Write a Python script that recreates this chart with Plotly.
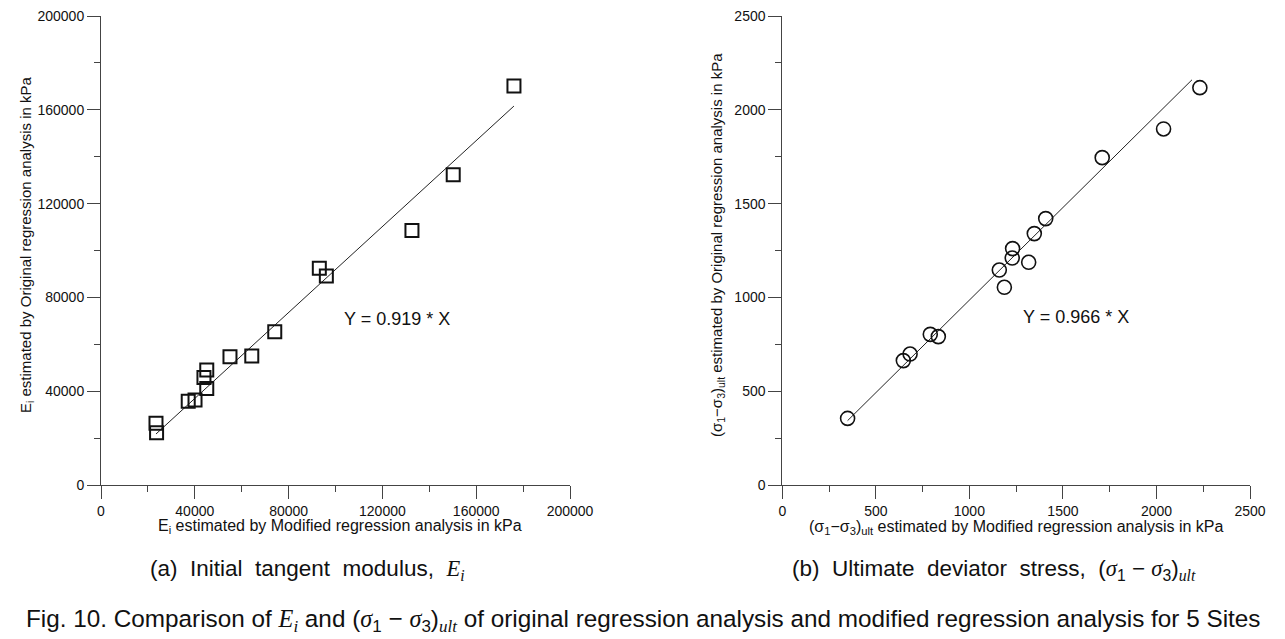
import plotly.graph_objects as go

# ---- data ----
ei_modified = [176100, 150200, 132600, 93100, 96100, 74100, 64300, 55000, 45100, 43900, 45100, 40100, 37200, 23450, 23700]
ei_original = [170200, 132300, 108500, 92400, 89100, 65300, 55000, 54700, 49000, 45800, 41200, 36300, 35700, 26300, 22300]
ei_line_x = [23450, 176100]
ei_line_y = [21750, 161600]

su_modified = [2232, 2038, 1710, 1408, 1347, 1231, 1229, 1317, 1160, 1187, 834, 791, 683, 647, 349]
su_original = [2118, 1898, 1745, 1420, 1340, 1260, 1210, 1187, 1146, 1054, 791, 803, 698, 663, 355]
su_line_x = [349, 2190]
su_line_y = [343, 2160]

ei_ticks = [0, 40000, 80000, 120000, 160000, 200000]
su_ticks = [0, 500, 1000, 1500, 2000, 2500]

W, H = 1285, 639
def px(x):
    return x / W
def py(y):
    return 1 - y / H

AX = "#444444"
FONT = "Arial, Liberation Sans, sans-serif"
SERIF = "Liberation Serif, Times New Roman, serif"

fig = go.Figure()

fig.add_trace(go.Scatter(x=ei_line_x, y=ei_line_y, mode="lines",
                         line=dict(color="#222222", width=1), xaxis="x", yaxis="y", showlegend=False))
fig.add_trace(go.Scatter(x=ei_modified, y=ei_original, mode="markers",
                         marker=dict(symbol="square-open", size=13, color="#111111", line=dict(width=2)),
                         xaxis="x", yaxis="y", showlegend=False))
fig.add_trace(go.Scatter(x=su_line_x, y=su_line_y, mode="lines",
                         line=dict(color="#222222", width=1), xaxis="x2", yaxis="y2", showlegend=False))
fig.add_trace(go.Scatter(x=su_modified, y=su_original, mode="markers",
                         marker=dict(symbol="circle-open", size=14, color="#111111", line=dict(width=1.6)),
                         xaxis="x2", yaxis="y2", showlegend=False))

def axis(domain, rng, ticks, minor_dtick, anchor):
    return dict(domain=domain, range=rng, tickvals=ticks, ticktext=[str(t) for t in ticks],
                showline=True, linecolor=AX, linewidth=1, mirror=False,
                showgrid=False, zeroline=False, ticks="outside", ticklen=13, tickwidth=1,
                tickcolor=AX, tickfont=dict(family=FONT, size=14, color="#111111"),
                minor=dict(ticks="outside", ticklen=6, tickcolor=AX, dtick=minor_dtick, tick0=0, showgrid=False),
                anchor=anchor, automargin=False, fixedrange=True)

ydom = [py(485), py(16)]
xa = axis([px(101), px(570)], [0, 200000], ei_ticks, 20000, "y")
ya = axis(ydom, [0, 200000], ei_ticks, 20000, "x")
xb = axis([px(782.3), px(1250)], [0, 2500], su_ticks, 250, "y2")
yb = axis(ydom, [0, 2500], su_ticks, 250, "x2")

fig.update_layout(
    width=W, height=H, margin=dict(l=0, r=0, t=0, b=0),
    paper_bgcolor="white", plot_bgcolor="white",
    xaxis=xa, yaxis=ya, xaxis2=xb, yaxis2=yb,
    font=dict(family=FONT, color="#111111"),
)

sig = lambda n: f"<span style='font-family:{SERIF}'><i>σ</i></span><sub>{n}</sub>"
ult = f"<sub><span style='font-family:{SERIF}'><i>ult</i></span></sub>"
anns = [
    dict(x=102600, y=71000, xref="x", yref="y", text="Y = 0.919 * X", xanchor="left", yanchor="middle",
         showarrow=False, font=dict(size=18, family=FONT)),
    dict(x=1274, y=894, xref="x2", yref="y2", text="Y = 0.966 * X", xanchor="left", yanchor="middle",
         showarrow=False, font=dict(size=18, family=FONT)),
    dict(x=px(340), y=py(526), xref="paper", yref="paper",
         text="E<sub>i</sub> estimated by Modified regression analysis in kPa",
         showarrow=False, font=dict(size=16), xanchor="center", yanchor="middle"),
    dict(x=px(26), y=py(245), xref="paper", yref="paper", textangle=-90,
         text="E<sub>i</sub> estimated by Original regression analysis in kPa",
         showarrow=False, font=dict(size=15), xanchor="center", yanchor="middle"),
    dict(x=px(1016), y=py(527), xref="paper", yref="paper",
         text="(σ<sub>1</sub>−σ<sub>3</sub>)<sub>ult</sub> estimated by Modified regression analysis in kPa",
         showarrow=False, font=dict(size=16), xanchor="center", yanchor="middle"),
    dict(x=px(717), y=py(245), xref="paper", yref="paper", textangle=-90,
         text="(σ<sub>1</sub>−σ<sub>3</sub>)<sub>ult</sub> estimated by Original regression analysis in kPa",
         showarrow=False, font=dict(size=15), xanchor="center", yanchor="middle"),
    dict(x=px(148), y=py(570), xref="paper", yref="paper", xanchor="left", yanchor="middle",
         text=f"(a)  Initial  tangent  modulus,  <span style='font-family:{SERIF}'><i>E<sub>i</sub></i></span>",
         showarrow=False, font=dict(size=22.5)),
    dict(x=px(790), y=py(570), xref="paper", yref="paper", xanchor="left", yanchor="middle",
         text=f"(b)  Ultimate  deviator  stress,  ({sig(1)} − {sig(3)}){ult}",
         showarrow=False, font=dict(size=22.5)),
    dict(x=0.5, y=py(620), xref="paper", yref="paper", xanchor="center", yanchor="middle",
         text=(f"Fig. 10. Comparison of <span style='font-family:{SERIF}'><i>E<sub>i</sub></i></span> and "
               f"({sig(1)} − {sig(3)}){ult} "
               "of original regression analysis and modified regression analysis for 5 Sites"),
         showarrow=False, font=dict(size=24.3)),
]
fig.update_layout(annotations=anns)

fig.write_html("out.html", config={"displayModeBar": False},
               post_script="document.body.style.margin='0px';document.body.style.overflow='hidden';")
